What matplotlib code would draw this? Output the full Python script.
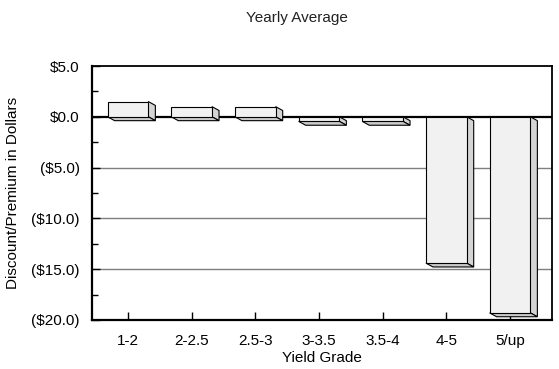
import numpy as np
import matplotlib
matplotlib.use("Agg")
import matplotlib.pyplot as plt
from matplotlib.patches import Polygon
from matplotlib.ticker import FuncFormatter, MultipleLocator

plt.rcParams['font.family'] = ['Liberation Sans', 'DejaVu Sans']

# values
grades = ['1-2', '2-2.5', '2.5-3', '3-3.5', '3.5-4', '4-5', '5/up']
premium = [1.5, 1.0, 1.0, -0.45, -0.45, -14.4, -19.3]

fig = plt.figure(figsize=(5.59, 3.69), dpi=100)
ax = fig.add_axes([0.1646, 0.1328, 0.8229, 0.6883])

# fake 3d depth (data units)
w = 0.64
dx = 0.11
dy = 0.38
front_c = '#f1f1f1'
side_c = '#d4d4d4'
bot_c = '#c9c9c9'

for i, v in enumerate(premium):
    x0 = i - w / 2
    x1 = i + w / 2
    lo, hi = min(0, v), max(0, v)
    # side face
    side = Polygon([(x1, hi), (x1 + dx, hi - dy), (x1 + dx, lo - dy), (x1, lo)],
                   closed=True, fc=side_c, ec='black', lw=0.8, zorder=2)
    # bottom face
    bot = Polygon([(x0, lo), (x1, lo), (x1 + dx, lo - dy), (x0 + dx, lo - dy)],
                  closed=True, fc=bot_c, ec='black', lw=0.8, zorder=2)
    ax.add_patch(side)
    ax.add_patch(bot)
    ax.bar(i, v, width=w, color=front_c, edgecolor='black', linewidth=0.8, zorder=3)

for g in [-5, -10, -15]:
    ax.axhline(g, color='#7f7f7f', lw=1.0, zorder=0.5)
ax.axhline(0, color='black', lw=1.6, zorder=1.5)

ax.set_xlim(-0.565, 6.66)
ax.set_ylim(-20, 5)
ax.set_xticks(range(len(grades)))
ax.set_xticklabels(grades, fontsize=11)
ax.yaxis.set_major_locator(MultipleLocator(5))
ax.yaxis.set_minor_locator(MultipleLocator(2.5))


def money(v, pos):
    if v < 0:
        return '(${:.1f})'.format(-v)
    return '${:.1f}'.format(v)


ax.yaxis.set_major_formatter(FuncFormatter(money))
ax.tick_params(axis='y', which='major', direction='in', length=6, width=1, pad=9, labelsize=11)
ax.tick_params(axis='y', which='minor', direction='in', length=4, width=1)
ax.tick_params(axis='x', direction='in', length=6, width=1, pad=10)

for s in ['left', 'bottom']:
    ax.spines[s].set_linewidth(1.6)
for s in ['top', 'right']:
    ax.spines[s].set_linewidth(1.3)

ax.set_xlabel('Yield Grade', fontsize=11, labelpad=2)
ax.set_ylabel('Discount/Premium in Dollars', fontsize=11, labelpad=8)
fig.text(0.531, 0.951, 'Yearly Average', ha='center', va='center', fontsize=11, color='#222222')

plt.savefig('out.png', dpi=100)
